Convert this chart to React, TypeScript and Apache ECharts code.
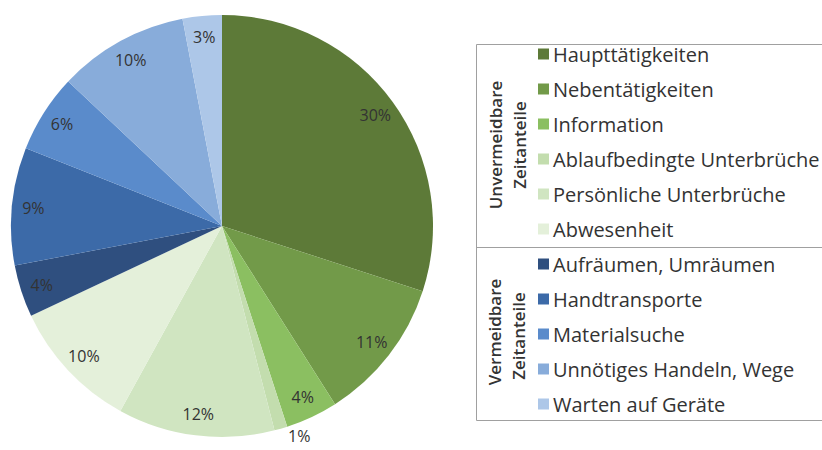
import React, { useEffect, useRef } from "react";
import * as echarts from "echarts";

const categories = [
  "Haupttätigkeiten",
  "Nebentätigkeiten",
  "Information",
  "Ablaufbedingte Unterbrüche",
  "Persönliche Unterbrüche",
  "Abwesenheit",
  "Aufräumen, Umräumen",
  "Handtransporte",
  "Materialsuche",
  "Unnötiges Handeln, Wege",
  "Warten auf Geräte",
];
const values = [30, 11, 4, 1, 12, 10, 4, 9, 6, 10, 3];
const colors = [
  "#5d7a38",
  "#729a49",
  "#8bbf61",
  "#c3ddae",
  "#d0e5c1",
  "#e4f0da",
  "#2f4f7f",
  "#3c6aa8",
  "#5a8bcb",
  "#88acda",
  "#adc7e8",
];
const groupTitles = [
  ["Unvermeidbare", "Zeitanteile"],
  ["Vermeidbare", "Zeitanteile"],
];

const FONT = "'Open Sans', sans-serif";

export default function App() {
  const ref = useRef<HTMLDivElement>(null);
  useEffect(() => {
    if (!ref.current) return;
    const chart = echarts.init(ref.current, undefined, { renderer: "svg" });
    const data = categories.map((name, i) => ({
      name,
      value: values[i],
      itemStyle: { color: colors[i] },
    }));
    const labelData = categories.map((name, i) => {
      const item: any = { name, value: values[i] };
      if (values[i] <= 1) {
        item.label = { position: "outside", color: "#333" };
        item.labelLine = { show: false, length: 8, length2: 0 };
      }
      return item;
    });
    const titleText = (t: string, x: number, y: number) => ({
      type: "text",
      x,
      y,
      rotation: Math.PI / 2,
      style: {
        text: t,
        font: `600 17px ${FONT}`,
        fill: "#333",
        align: "center",
        verticalAlign: "middle",
      },
    });
    chart.setOption({
      animation: false,
      backgroundColor: "#fff",
      legend: {
        orient: "vertical",
        left: 538,
        top: 43,
        padding: 0,
        itemWidth: 11,
        itemHeight: 11,
        itemGap: 13,
        icon: "rect",
        selectedMode: false,
        data: categories,
        textStyle: {
          fontFamily: FONT,
          fontSize: 20,
          lineHeight: 22,
          color: "#333",
          padding: [0, 0, 0, -1],
        },
      },
      graphic: [
        {
          type: "rect",
          shape: { x: 476.5, y: 44.5, width: 400, height: 376 },
          style: { fill: "none", stroke: "#a0a0a0", lineWidth: 1 },
          z: 0,
        },
        {
          type: "line",
          shape: { x1: 476.5, y1: 247.5, x2: 822, y2: 247.5 },
          style: { stroke: "#a0a0a0", lineWidth: 1 },
        },
        titleText(groupTitles[0][0], 495, 145),
        titleText(groupTitles[0][1], 519, 145),
        titleText(groupTitles[1][0], 494, 332),
        titleText(groupTitles[1][1], 518, 336),
      ],
      series: [
        {
          type: "pie",
          center: [222, 226],
          radius: [0, 211],
          startAngle: 90,
          clockwise: true,
          silent: true,
          label: { show: false },
          labelLine: { show: false },
          itemStyle: { borderWidth: 0 },
          data,
        },
        {
          type: "pie",
          center: [222, 226],
          radius: [162, 211],
          startAngle: 90,
          clockwise: true,
          silent: true,
          legendHoverLink: false,
          itemStyle: { color: "rgba(0,0,0,0)", borderWidth: 0 },
          label: {
            show: true,
            position: "inside",
            formatter: (p: any) => `${p.value}%`,
            fontFamily: FONT,
            fontSize: 16,
            color: "#333",
          },
          labelLine: { show: false },
          data: labelData,
        },
      ],
    });
    return () => chart.dispose();
  }, []);
  return <div ref={ref} style={{ width: 822, height: 450, position: "absolute", left: 0, top: 0 }} />;
}
